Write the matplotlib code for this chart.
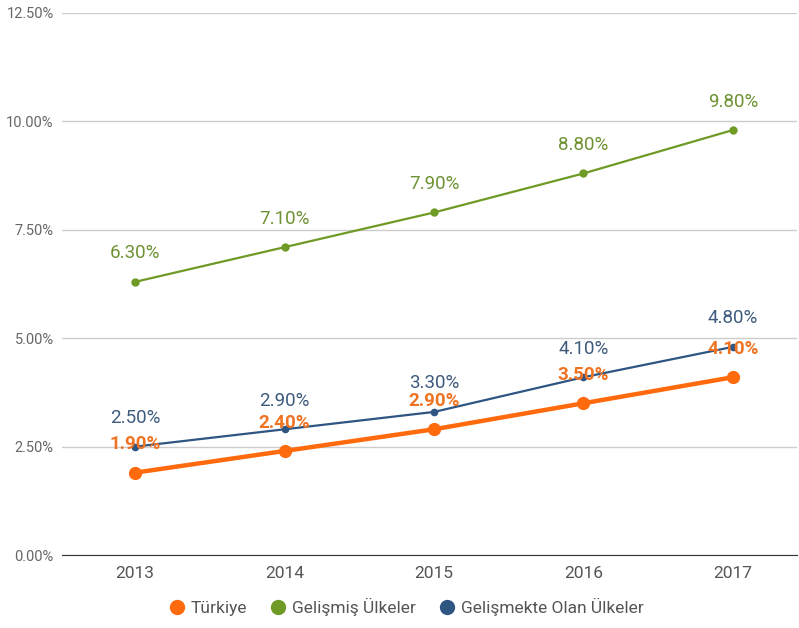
import matplotlib.pyplot as plt
from matplotlib.ticker import FuncFormatter

plt.rcParams['font.family'] = ['Roboto', 'DejaVu Sans']

years = [2013, 2014, 2015, 2016, 2017]
turkiye = [1.9, 2.4, 2.9, 3.5, 4.1]
gelismis = [6.3, 7.1, 7.9, 8.8, 9.8]
gelismekte = [2.5, 2.9, 3.3, 4.1, 4.8]

c_tr = '#ff6a0d'
c_gel = '#6f9a25'
c_dev = '#2f5582'

fig = plt.figure(figsize=(7.99, 6.28), dpi=100)
ax = fig.add_axes([0.0776, 0.1162, 0.92, 0.8631])

ax.plot(years, gelismis, color=c_gel, lw=1.6, marker='o', ms=5, zorder=3,
        label='Gelişmiş Ülkeler')
ax.plot(years, gelismekte, color=c_dev, lw=1.6, marker='o', ms=4.5, zorder=3,
        label='Gelişmekte Olan Ülkeler')
ax.plot(years, turkiye, color=c_tr, lw=3.2, marker='o', ms=8.5, zorder=4,
        label='Türkiye')

for x, v in zip(years, gelismis):
    ax.annotate(f'{v:.2f}%', (x, v), xytext=(0, 14), textcoords='offset points',
                ha='center', va='bottom', fontsize=13.5, color='#6e9233')
for x, v in zip(years, gelismekte):
    ax.annotate(f'{v:.2f}%', (x, v), xytext=(0, 14), textcoords='offset points',
                ha='center', va='bottom', fontsize=13.5, color='#3e5b7e')
for x, v in zip(years, turkiye):
    ax.annotate(f'{v:.2f}%', (x, v), xytext=(0, 14), textcoords='offset points',
                ha='center', va='bottom', fontsize=13.5, color='#ee7424',
                fontweight='bold', zorder=5)

ax.set_xlim(2012.51, 2017.43)
ax.set_ylim(0, 12.5)
ax.set_yticks([0, 2.5, 5, 7.5, 10, 12.5])
ax.yaxis.set_major_formatter(FuncFormatter(lambda v, p: f'{v:.2f}%'))
ax.set_xticks(years)
ax.grid(axis='y', color='#cccccc', lw=1)
ax.set_axisbelow(True)
for s in ['top', 'right', 'left']:
    ax.spines[s].set_visible(False)
ax.spines['bottom'].set_color('#333333')
ax.tick_params(axis='y', length=0, labelsize=10.5, labelcolor='#666666', pad=6)
ax.tick_params(axis='x', length=0, labelsize=12.5, labelcolor='#555555', pad=8)

handles, labels = ax.get_legend_handles_labels()
order = [2, 0, 1]
leg = fig.legend([plt.Line2D([], [], ls='', marker='o', ms=10,
                             color=handles[i].get_color()) for i in order],
                 [labels[i] for i in order],
                 loc='center', bbox_to_anchor=(0.508, 0.034), ncol=3, frameon=False,
                 fontsize=12.5, handletextpad=0.3, columnspacing=1.3, handlelength=1)
for t in leg.get_texts():
    t.set_color('#555555')

fig.savefig('out.png', dpi=100)
